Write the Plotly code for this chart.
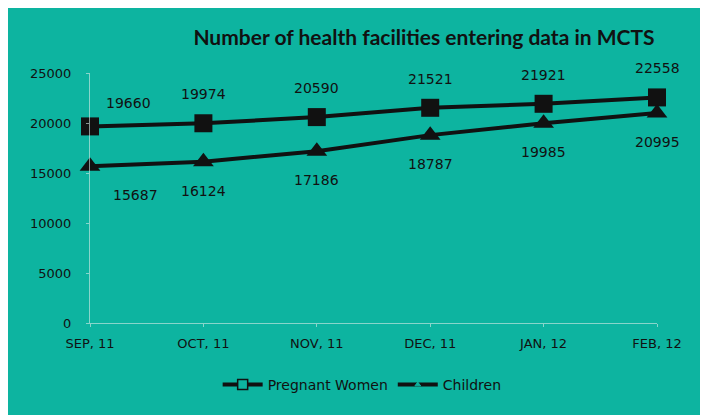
import plotly.graph_objects as go

MONTHS = ['SEP, 11', 'OCT, 11', 'NOV, 11', 'DEC, 11', 'JAN, 12', 'FEB, 12']
PREGNANT_WOMEN = [19660, 19974, 20590, 21521, 21921, 22558]
CHILDREN = [15687, 16124, 17186, 18787, 19985, 20995]
Y_TICKS = [0, 5000, 10000, 15000, 20000, 25000]

BG = '#0db4a0'
INK = '#111111'
AXIS = 'rgba(220,235,232,0.6)'
FONT = 'DejaVu Sans'

fig = go.Figure()

# actual series (legend drawn by dummy traces below)
fig.add_trace(go.Scatter(
    x=MONTHS, y=PREGNANT_WOMEN, mode='lines+markers', name='Pregnant Women',
    line=dict(color=INK, width=4),
    marker=dict(symbol='square', size=18, color=INK),
    cliponaxis=False, showlegend=False))
fig.add_trace(go.Scatter(
    x=MONTHS, y=CHILDREN, mode='lines+markers', name='Children',
    line=dict(color=INK, width=4),
    marker=dict(symbol='triangle-up', size=18, color=INK),
    cliponaxis=False, showlegend=False))

# legend entries
fig.add_trace(go.Scatter(
    x=[None], y=[None], mode='lines+markers', name='Pregnant Women',
    line=dict(color=INK, width=4),
    marker=dict(symbol='square', size=10, color=BG, line=dict(color=INK, width=1.5))))
fig.add_trace(go.Scatter(
    x=[None], y=[None], mode='lines+markers', name='Children',
    line=dict(color=INK, width=4),
    marker=dict(symbol='triangle-up', size=5, color=BG, line=dict(color=BG, width=1))))

# data labels
for i, (m, v) in enumerate(zip(MONTHS, PREGNANT_WOMEN)):
    fig.add_annotation(x=m, y=v, text=str(v), showarrow=False,
                       xshift=38 if i == 0 else 0, yshift=23 if i == 0 else 29,
                       font=dict(size=14, color=INK, family=FONT))
for i, (m, v) in enumerate(zip(MONTHS, CHILDREN)):
    fig.add_annotation(x=m, y=v, text=str(v), showarrow=False,
                       xshift=45 if i == 0 else 0, yshift=-29,
                       font=dict(size=14, color=INK, family=FONT))

fig.update_layout(
    width=708, height=415,
    margin=dict(l=82, r=59, t=65, b=100),
    paper_bgcolor=BG, plot_bgcolor=BG,
    font=dict(family=FONT, size=13, color=INK),
    title=dict(text='<b>Number of health facilities entering data in MCTS</b>',
               font=dict(family='Lato', size=21, color=INK),
               xref='paper', x=0.589, xanchor='center',
               yref='container', y=0.928, yanchor='middle'),
    showlegend=True,
    legend=dict(orientation='h', xref='paper', x=0.48, xanchor='center',
                y=-0.248, yanchor='middle', bgcolor='rgba(0,0,0,0)',
                font=dict(size=14, color=INK), itemwidth=40),
    xaxis=dict(type='category', range=[0, 5], showgrid=False,
               showline=True, linecolor=AXIS, linewidth=1,
               ticks='outside', ticklen=3, tickcolor=AXIS,
               ticklabelstandoff=5, zeroline=False),
    yaxis=dict(range=[0, 25000], tickvals=Y_TICKS,
               ticktext=[str(t) for t in Y_TICKS], showgrid=False,
               showline=True, linecolor=AXIS, linewidth=1,
               ticks='outside', ticklen=3, tickcolor=AXIS,
               ticklabelstandoff=12, zeroline=False),
)

fig.write_html('out.html')
